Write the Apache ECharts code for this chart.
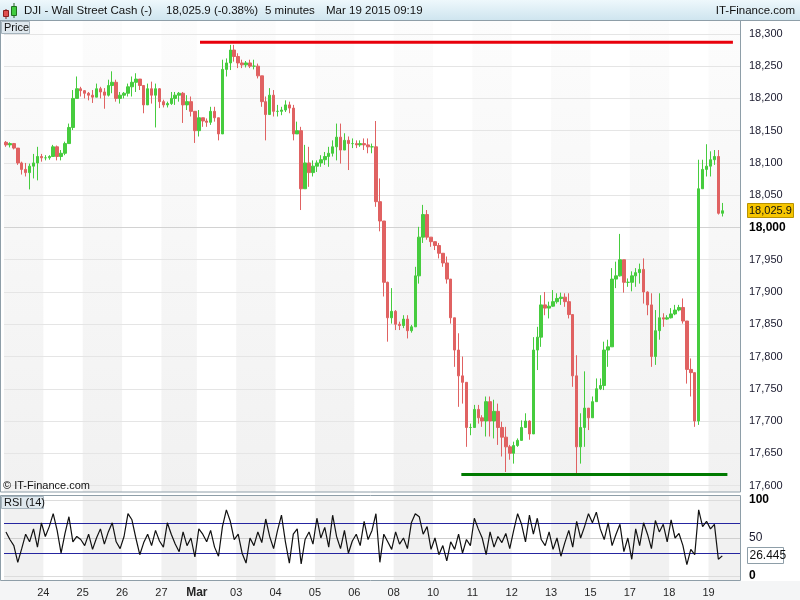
<!DOCTYPE html>
<html><head><meta charset="utf-8">
<script src="https://cdn.jsdelivr.net/npm/echarts@6/dist/echarts.min.js"></script>
<style>html,body{margin:0;padding:0;background:#fff}#c{width:800px;height:600px}</style>
</head><body><div id="c"></div>
<script>
// ---------- DATA ----------
const dayLabels = ['24','25','26','27','Mar','03','04','05','06','08','10','11','12','13','15','17','18','19'];
const dayStartIndex = [10,20,30,40,49,59,69,79,89,99,109,119,129,139,149,159,169,179];
const totalSlots = 187;
const firstOpen = 18132;
const closes = [
18128,18130,18123,18100,18090,18085,18095,18100,18110,18108,
18108,18110,18125,18110,18115,18130,18155,18200,18215,18212,
18208,18205,18202,18215,18210,18205,18220,18225,18200,18205,
18208,18218,18225,18230,18220,18190,18215,18205,18215,18195,
18190,18192,18200,18205,18208,18190,18195,18180,18150,18170,
18165,18163,18180,18170,18145,18245,18255,18275,18265,18255,
18252,18255,18250,18250,18235,18195,18175,18205,18180,18180,
18182,18190,18185,18145,18150,18060,18100,18085,18095,18100,
18105,18110,18115,18125,18140,18120,18135,18130,18130,18128,
18130,18128,18125,18125,18040,18010,17915,17860,17870,17850,
17848,17858,17840,17846,17925,17985,18020,17985,17978,17972,
17960,17945,17920,17860,17810,17770,17760,17690,17690,17718,
17705,17700,17730,17700,17715,17690,17675,17660,17650,17662,
17670,17690,17700,17680,17810,17830,17880,17875,17878,17885,
17890,17892,17885,17865,17770,17660,17690,17720,17705,17730,
17750,17755,17810,17815,17920,17925,17950,17915,17915,17925,
17930,17935,17900,17880,17800,17840,17860,17858,17860,17866,
17872,17876,17855,17780,17775,17700,18060,18090,18095,18105,
18110,18022,18025.9];
const highs = [
18134,18132,18131,18118,18102,18100,18099,18114,18125,18114,
18112,18112,18128,18127,18120,18133,18161,18213,18234,18218,
18213,18210,18213,18223,18218,18216,18229,18242,18229,18210,
18210,18223,18234,18239,18229,18218,18223,18226,18223,18216,
18198,18195,18210,18210,18210,18210,18205,18203,18179,18182,
18169,18169,18187,18187,18166,18260,18262,18283,18283,18270,
18260,18258,18260,18260,18254,18234,18203,18216,18213,18190,
18187,18197,18195,18190,18164,18156,18128,18125,18104,18104,
18112,18117,18125,18135,18161,18161,18146,18141,18138,18135,
18135,18138,18138,18130,18165,18076,17960,17916,17906,17872,
17854,17864,17864,17849,17939,18001,18035,18027,17983,17976,
17976,17952,17955,17913,17849,17836,17800,17753,17696,17725,
17725,17709,17738,17738,17733,17727,17699,17691,17663,17668,
17673,17701,17712,17701,17830,17846,17895,17900,17885,17903,
17898,17899,17898,17898,17862,17802,17712,17777,17717,17738,
17766,17766,17823,17826,17937,17947,17990,17942,17921,17932,
17937,17944,17952,17901,17898,17872,17898,17867,17864,17875,
17880,17880,17890,17831,17797,17761,18105,18105,18129,18118,
18120,18120,18038];
const lows = [
18125,18124,18121,18097,18082,18079,18059,18076,18073,18102,
18104,18105,18112,18104,18104,18112,18130,18151,18203,18203,
18200,18197,18193,18203,18200,18184,18203,18208,18195,18192,
18200,18203,18203,18210,18213,18177,18190,18192,18155,18185,
18186,18186,18190,18190,18195,18162,18182,18172,18131,18141,
18156,18156,18159,18164,18135,18154,18234,18244,18257,18247,
18247,18248,18247,18245,18231,18187,18135,18177,18172,18172,
18174,18179,18177,18135,18146,18027,18063,18063,18079,18086,
18094,18097,18094,18110,18104,18099,18120,18089,18123,18123,
18125,18120,18115,18115,18032,17994,17893,17823,17851,17841,
17841,17844,17828,17837,17864,17913,17976,17981,17970,17965,
17952,17939,17913,17851,17784,17722,17727,17660,17678,17696,
17696,17691,17676,17676,17673,17663,17645,17621,17640,17634,
17660,17678,17691,17671,17686,17779,17815,17864,17859,17877,
17882,17880,17877,17859,17753,17619,17634,17660,17686,17715,
17738,17748,17748,17784,17826,17906,17924,17899,17908,17901,
17908,17913,17882,17864,17784,17787,17826,17846,17857,17859,
17864,17870,17851,17758,17738,17691,17694,18071,18079,18079,
18097,18020,18017];
const rsi = [
58,48,40,18,36,55,45,62,38,70,
52,65,82,60,30,56,78,45,52,48,
40,55,35,50,62,42,58,70,45,36,
52,82,74,50,28,44,55,40,60,46,
38,70,55,42,32,58,40,50,25,62,
55,45,60,38,26,65,87,72,48,55,
30,17,50,40,58,44,75,52,36,60,
80,45,17,55,62,16,48,58,42,76,
50,64,38,80,52,36,60,30,46,55,
40,72,48,60,82,18,55,45,35,58,
42,50,36,70,82,78,55,65,35,50,
28,40,20,45,35,55,30,48,40,76,
62,50,28,58,38,52,44,56,36,60,
82,68,45,80,55,76,48,40,58,35,
50,26,44,60,38,72,50,65,82,70,
84,62,48,70,40,55,68,32,50,22,
62,40,70,55,36,73,58,68,45,74,
50,56,40,15,35,28,87,65,72,62,
68,22,26.445];
const priceTicks = [17600,17650,17700,17750,17800,17850,17900,17950,18000,18050,18100,18150,18200,18250,18300];
const rsiTicks = [0,50,100];
const rsiLevels = [30,70];
const resistance = {level: 18287, from: 49.8, to: 185.2};
const support = {level: 17617, from: 116.2, to: 183.8};
const lastPrice = 18025.9;
const lastRsi = 26.445;

// ---------- BUILD ----------
const FONT = '"Liberation Sans", Arial, sans-serif';
const chart = echarts.init(document.getElementById('c'));
const slots = Array.from({length: totalSlots}, (_, i) => String(i));
const candleData = closes.map((c, i) => {
  const o = i === 0 ? firstOpen : closes[i - 1];
  return [o, c, Math.min(lows[i], o, c), Math.max(highs[i], o, c)];
});
const bounds = [0, ...dayStartIndex, totalSlots];
const greyBands = [];
for (let s = 0; s < bounds.length - 1; s += 2) greyBands.push([{xAxis: bounds[s]}, {xAxis: bounds[s + 1]}]);
const GREEN = '#46cc3e', RED = '#e06262';
const BORDER = '#8e9ea8';

const option = {
  animation: false,
  textStyle: {fontFamily: FONT},
  grid: [
    {left: 4, right: 60, top: 21, bottom: 108},
    {left: 4, right: 60, top: 495, bottom: 20}
  ],
  xAxis: [
    {type: 'category', gridIndex: 0, position: 'bottom', data: slots, boundaryGap: true, show: false},
    {type: 'value', gridIndex: 0, position: 'top', min: 0, max: totalSlots, show: false},
    {type: 'category', gridIndex: 1, position: 'top', data: slots, boundaryGap: true, show: false},
    {type: 'value', gridIndex: 1, position: 'bottom', min: 0, max: totalSlots,
      axisLine: {show: false}, axisTick: {show: false}, splitLine: {show: false},
      axisLabel: {customValues: dayStartIndex, margin: 7, fontSize: 11, color: '#262626', fontFamily: FONT,
        formatter: v => { const l = dayLabels[dayStartIndex.indexOf(v)]; return l === 'Mar' ? '{b|Mar}' : l; },
        rich: {b: {fontWeight: 'bold', fontSize: 12, color: '#262626', fontFamily: FONT}}}}
  ],
  yAxis: [
    {type: 'value', gridIndex: 0, position: 'right', min: 17590, max: 18320, scale: true,
      axisLine: {show: false}, splitLine: {show: false},
      axisTick: {show: true, customValues: priceTicks, length: 5, lineStyle: {color: BORDER}},
      axisLabel: {customValues: priceTicks, margin: 9, fontSize: 11, color: '#1a1a2e', fontFamily: FONT,
        formatter: v => v === 18000 ? '{b|18,000}' : v.toLocaleString('en-US'),
        rich: {b: {fontWeight: 'bold', fontSize: 12, color: '#000', fontFamily: FONT}}}},
    {type: 'value', gridIndex: 1, position: 'right', min: -5.263, max: 106.58,
      axisLine: {show: false}, splitLine: {show: false},
      axisTick: {show: true, customValues: rsiTicks, length: 5, lineStyle: {color: BORDER}},
      axisLabel: {customValues: rsiTicks, margin: 9, fontSize: 12, color: '#1a1a2e', fontFamily: FONT,
        formatter: v => v === 50 ? '50' : '{b|' + v + '}',
        rich: {b: {fontWeight: 'bold', fontSize: 12, color: '#000', fontFamily: FONT}}}}
  ],
  series: [
    {type: 'line', xAxisIndex: 1, yAxisIndex: 0, data: [], silent: true, z: 1,
      markArea: {silent: true, itemStyle: {color: {type: 'linear', x: 0, y: 0, x2: 0, y2: 1,
        colorStops: [{offset: 0, color: '#fcfcfc'}, {offset: 1, color: '#f1f1f1'}]}}, data: greyBands},
      markLine: {silent: true, symbol: ['none', 'none'], label: {show: false},
        data: priceTicks.map(v => ({yAxis: v, lineStyle: {type: 'solid', width: 1, color: v === 18000 ? '#d2d2d2' : '#e5e5e5'}}))}},
    {type: 'candlestick', xAxisIndex: 0, yAxisIndex: 0, data: candleData, barWidth: 3, z: 5,
      itemStyle: {color: GREEN, color0: RED, borderColor: GREEN, borderColor0: RED, borderWidth: 1}},
    {type: 'line', xAxisIndex: 1, yAxisIndex: 0, symbol: 'none', z: 8, silent: true,
      data: [[resistance.from, resistance.level], [resistance.to, resistance.level]],
      lineStyle: {color: '#e8000b', width: 3}},
    {type: 'line', xAxisIndex: 1, yAxisIndex: 0, symbol: 'none', z: 8, silent: true,
      data: [[support.from, support.level], [support.to, support.level]],
      lineStyle: {color: '#007a00', width: 3}},
    {type: 'line', xAxisIndex: 3, yAxisIndex: 1, data: [], silent: true, z: 1,
      markArea: {silent: true, itemStyle: {color: '#f1f1f1'}, data: greyBands},
      markLine: {silent: true, symbol: ['none', 'none'], label: {show: false},
        data: rsiTicks.map(v => ({yAxis: v, lineStyle: {type: 'solid', width: 1, color: v === 50 ? '#cfcfcf' : '#dcdcdc'}}))
          .concat(rsiLevels.map(v => ({yAxis: v, lineStyle: {type: 'solid', width: 1, color: '#2626a0'}})))}},
    {type: 'line', xAxisIndex: 3, yAxisIndex: 1, symbol: 'none', z: 6, silent: true,
      data: rsi.map((v, i) => [i + 0.5, v]),
      lineStyle: {color: '#111', width: 1.2}}
  ]
};
chart.setOption(option);

const py = chart.convertToPixel({yAxisIndex: 0}, lastPrice);
const ry = chart.convertToPixel({yAxisIndex: 1}, lastRsi);
const HF = '11.5px ' + FONT;
chart.setOption({graphic: [
  {type: 'rect', shape: {x: 0, y: 581, width: 800, height: 19}, style: {fill: '#f4f5f6'}, z: 0, silent: true},
  {type: 'rect', shape: {x: 0, y: 0, width: 800, height: 20}, silent: true, z: 50,
    style: {fill: {type: 'linear', x: 0, y: 0, x2: 0, y2: 1, colorStops: [{offset: 0, color: '#eef8fc'}, {offset: 1, color: '#cfe5ef'}]}}},
  {type: 'line', shape: {x1: 0, y1: 20.5, x2: 800, y2: 20.5}, style: {stroke: BORDER, lineWidth: 1}, z: 51, silent: true},
  {type: 'line', shape: {x1: 6, y1: 9, x2: 6, y2: 19}, style: {stroke: '#7a2020', lineWidth: 1}, z: 51},
  {type: 'rect', shape: {x: 3.5, y: 10.5, width: 5, height: 6}, style: {fill: '#e05050', stroke: '#8b2020'}, z: 52},
  {type: 'line', shape: {x1: 14, y1: 3, x2: 14, y2: 18}, style: {stroke: '#206020', lineWidth: 1}, z: 51},
  {type: 'rect', shape: {x: 11.5, y: 6.5, width: 5, height: 9}, style: {fill: '#40cc40', stroke: '#207020'}, z: 52},
  {type: 'text', x: 24, y: 10.5, z: 53, style: {text: 'DJI - Wall Street Cash (-)', font: HF, fill: '#111', verticalAlign: 'middle'}},
  {type: 'text', x: 166, y: 10.5, z: 53, style: {text: '18,025.9 (-0.38%)', font: HF, fill: '#111', verticalAlign: 'middle'}},
  {type: 'text', x: 265, y: 10.5, z: 53, style: {text: '5 minutes', font: HF, fill: '#111', verticalAlign: 'middle'}},
  {type: 'text', x: 326, y: 10.5, z: 53, style: {text: 'Mar 19 2015 09:19', font: HF, fill: '#111', verticalAlign: 'middle'}},
  {type: 'text', x: 795, y: 10.5, z: 53, style: {text: 'IT-Finance.com', font: HF, fill: '#111', align: 'right', verticalAlign: 'middle'}},
  {type: 'rect', shape: {x: 0.5, y: 20.5, width: 740, height: 471.5}, style: {fill: null, stroke: BORDER, lineWidth: 1}, z: 40, silent: true},
  {type: 'rect', shape: {x: 0.5, y: 495.5, width: 740, height: 85}, style: {fill: null, stroke: BORDER, lineWidth: 1}, z: 40, silent: true},
  {type: 'rect', shape: {x: 1.5, y: 21.5, width: 28, height: 12}, style: {fill: '#dfe8ee', stroke: '#a7b5be'}, z: 45},
  {type: 'text', x: 4, y: 27.8, z: 46, style: {text: 'Price', font: '11px ' + FONT, fill: '#111', verticalAlign: 'middle'}},
  {type: 'rect', shape: {x: 1.5, y: 496.5, width: 42, height: 12}, style: {fill: '#dfe8ee', stroke: '#a7b5be'}, z: 45},
  {type: 'text', x: 4, y: 502.8, z: 46, style: {text: 'RSI (14)', font: '11px ' + FONT, fill: '#111', verticalAlign: 'middle'}},
  {type: 'text', x: 3, y: 486, z: 46, style: {text: '\u00a9 IT-Finance.com', font: '11px ' + FONT, fill: '#111', verticalAlign: 'middle'}},
  {type: 'rect', shape: {x: 747.5, y: Math.round(py) - 7.5, width: 46, height: 14}, style: {fill: '#f7c600', stroke: '#b89200'}, z: 60},
  {type: 'text', x: 749, y: py, z: 61, style: {text: lastPrice.toLocaleString('en-US', {minimumFractionDigits: 1}), font: '11px ' + FONT, fill: '#111', verticalAlign: 'middle'}},
  {type: 'rect', shape: {x: 747.5, y: Math.round(ry) - 8.5, width: 36, height: 16}, style: {fill: '#fff', stroke: BORDER}, z: 60},
  {type: 'text', x: 749.5, y: ry, z: 61, style: {text: lastRsi.toFixed(3), font: '12px ' + FONT, fill: '#111', verticalAlign: 'middle'}}
]});
</script>
</body></html>
